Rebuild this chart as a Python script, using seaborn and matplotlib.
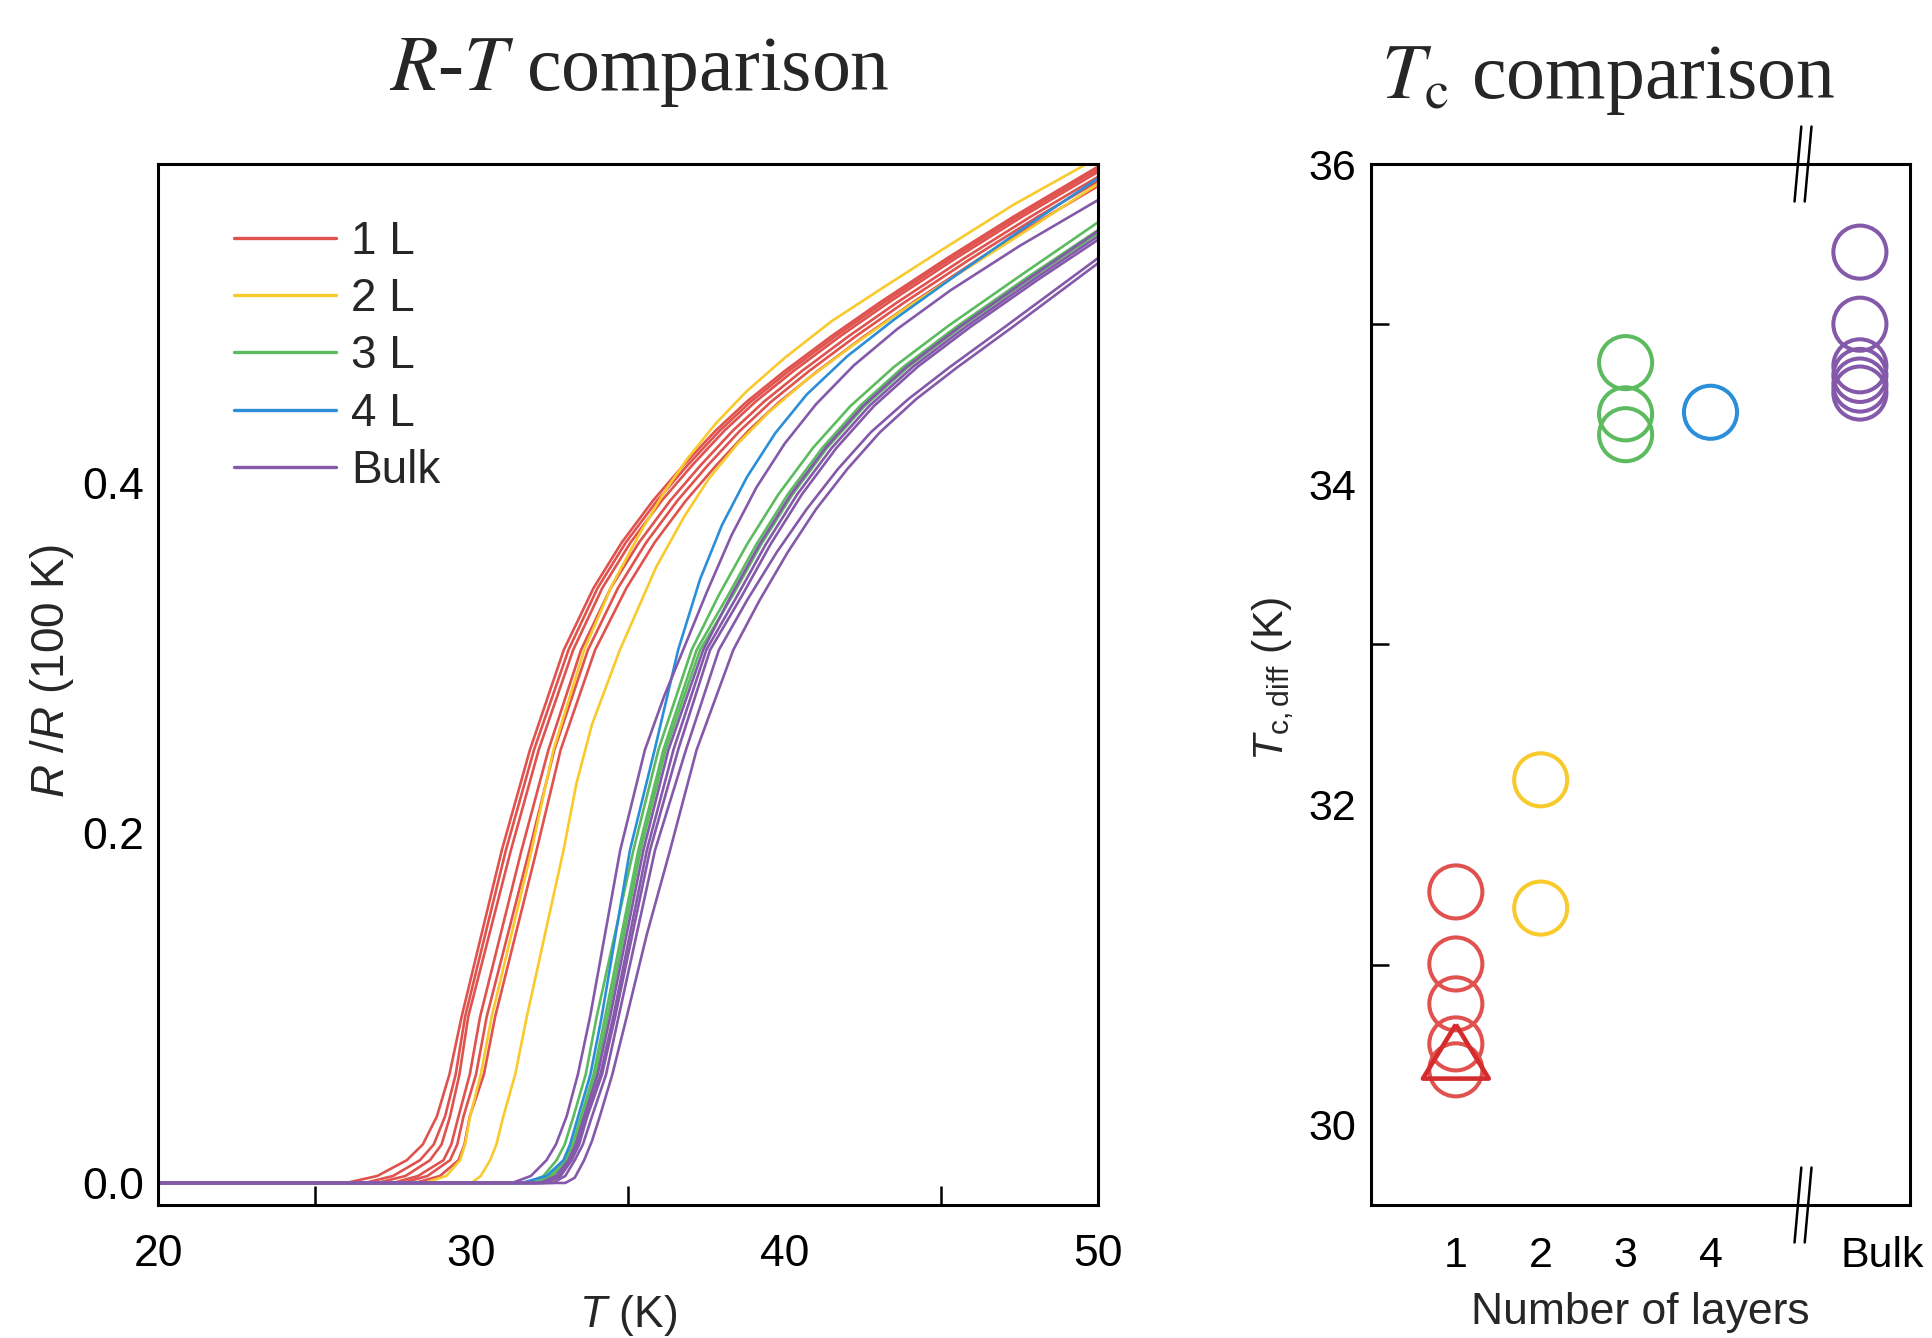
import numpy as np
import pandas as pd
import matplotlib
matplotlib.use("Agg")
import matplotlib.pyplot as plt
import matplotlib.transforms as mtransforms
from matplotlib import font_manager as fm
from matplotlib.lines import Line2D
import seaborn as sns

# ---------------------------------------------------------------------------
# R-T curves, normalised to R(100 K): each group is a list of curves,
# each curve a list of temperatures (K) and the matching resistance ratios.
# ---------------------------------------------------------------------------
RED_T = [
    [20, 26.0, 27.0, 27.94, 28.45, 28.90, 29.30, 29.69, 30.97, 31.87, 32.95, 33.90, 34.80, 35.80, 36.76, 37.80, 38.79, 40.00, 41.50, 43.04, 45.17, 47.30, 50],
    [20, 26.6, 27.5, 28.36, 28.80, 29.16, 29.50, 29.80, 31.10, 32.00, 33.10, 34.03, 34.93, 35.93, 36.89, 37.93, 38.92, 40.13, 41.63, 43.17, 45.30, 47.43, 50],
    [20, 27.0, 27.9, 28.68, 29.05, 29.32, 29.62, 29.90, 31.26, 32.15, 33.25, 34.18, 35.08, 36.08, 37.04, 38.08, 39.07, 40.28, 41.78, 43.32, 45.45, 47.58, 50],
    [20, 27.5, 28.3, 29.11, 29.36, 29.59, 29.95, 30.28, 31.60, 32.46, 33.50, 34.45, 35.35, 36.35, 37.31, 38.35, 39.34, 40.55, 42.05, 43.59, 45.72, 47.85, 50],
    [20, 27.8, 28.6, 29.32, 29.55, 29.75, 30.15, 30.49, 31.85, 32.65, 33.72, 34.68, 35.58, 36.58, 37.54, 38.58, 39.57, 40.78, 42.28, 43.82, 45.95, 48.08, 50],
    [20, 28.2, 29.0, 29.59, 29.78, 29.95, 30.40, 30.76, 32.08, 32.85, 33.95, 34.95, 35.85, 36.85, 37.81, 38.85, 39.84, 41.05, 42.55, 44.09, 46.22, 48.35, 50],
]
RED_R = [
    [0, 0, .004, .013, .022, .038, .062, .095, .19, .2475, .3046, .340, .366, .390, .410, .430, .4465, .4640, .4840, .5032, .5283, .5522, .5808],
    [0, 0, .004, .013, .022, .038, .062, .095, .19, .2475, .3046, .340, .366, .390, .410, .430, .4465, .4640, .4840, .5032, .5283, .5522, .5794],
    [0, 0, .004, .013, .022, .038, .062, .095, .19, .2475, .3046, .340, .366, .390, .410, .430, .4465, .4640, .4840, .5032, .5283, .5522, .5778],
    [0, 0, .004, .013, .022, .038, .062, .095, .19, .2475, .3046, .340, .366, .390, .410, .430, .4465, .4640, .4840, .5032, .5283, .5522, .5750],
    [0, 0, .004, .013, .022, .038, .062, .095, .19, .2475, .3046, .340, .366, .390, .410, .430, .4465, .4640, .4840, .5032, .5283, .5522, .5725],
    [0, 0, .004, .013, .022, .038, .062, .095, .19, .2475, .3046, .340, .366, .390, .410, .430, .4465, .4640, .4840, .5032, .5283, .5522, .5697],
]

YELLOW_T = [
    [20, 28.5, 29.2, 29.64, 29.80, 29.96, 30.30, 30.65, 31.92, 32.62, 33.60, 34.50, 35.40, 36.20, 36.90, 37.80, 38.79, 40.00, 41.50, 43.04, 45.17, 47.30, 50],
    [20, 30.0, 30.3, 30.60, 30.80, 31.02, 31.40, 31.77, 32.94, 33.35, 33.85, 34.74, 35.90, 36.80, 37.60, 38.50, 39.50, 40.70, 42.20, 43.70, 45.50, 47.70, 50],
]
YELLOW_R = [
    [0, 0, .004, .013, .022, .038, .062, .095, .19, .2475, .3046, .342, .372, .396, .414, .434, .4525, .4715, .4925, .5105, .5350, .5590, .5860],
    [0, 0, .004, .013, .022, .038, .062, .095, .19, .228, .262, .3046, .352, .381, .403, .4225, .4405, .4590, .4790, .4980, .5190, .5440, .5710],
]

GREEN_T = [
    [20, 31.8, 32.3, 32.72, 32.98, 33.26, 33.65, 34.00, 35.17, 35.97, 37.03, 37.90, 38.80, 39.80, 40.90, 42.10, 43.50, 45.20, 47.40, 50],
    [20, 32.0, 32.5, 33.00, 33.23, 33.50, 33.90, 34.27, 35.33, 36.13, 37.19, 38.20, 39.10, 40.10, 41.20, 42.40, 43.80, 45.50, 47.70, 50],
    [20, 32.1, 32.6, 33.05, 33.30, 33.56, 33.97, 34.35, 35.40, 36.20, 37.30, 38.35, 39.25, 40.25, 41.35, 42.55, 43.95, 45.65, 47.85, 50],
]
GREEN_R = [
    [0, 0, .004, .013, .022, .038, .062, .095, .19, .2475, .3046, .336, .365, .3935, .420, .444, .4665, .4895, .5170, .5490],
    [0, 0, .004, .013, .022, .038, .062, .095, .19, .2475, .3046, .336, .365, .3935, .420, .444, .4665, .4895, .5170, .5445],
    [0, 0, .004, .013, .022, .038, .062, .095, .19, .2475, .3046, .336, .365, .3935, .420, .444, .4665, .4895, .5170, .5428],
]

BLUE_T = [
    [20, 31.6, 32.4, 32.94, 33.15, 33.41, 33.80, 34.16, 35.06, 35.85, 36.60, 37.30, 38.00, 38.80, 39.70, 40.70, 42.00, 43.50, 45.30, 47.50, 50],
]
BLUE_R = [
    [0, 0, .004, .013, .022, .038, .062, .095, .19, .2475, .3046, .345, .376, .4035, .4285, .4505, .4725, .4935, .5166, .5441, .5741],
]

PURPLE_T = [
    [20, 31.3, 31.9, 32.40, 32.70, 33.04, 33.40, 33.79, 34.75, 35.54, 36.15, 36.76, 37.50, 38.30, 39.10, 40.00, 41.00, 42.20, 43.60, 45.30, 47.50, 50],
    [20, 32.2, 32.7, 33.10, 33.33, 33.60, 34.03, 34.43, 35.49, 36.29, 37.40, 38.30, 39.20, 40.20, 41.30, 42.50, 43.90, 45.60, 47.80, 50],
    [20, 32.3, 32.8, 33.15, 33.40, 33.66, 34.12, 34.53, 35.60, 36.45, 37.50, 38.50, 39.40, 40.40, 41.50, 42.70, 44.10, 45.80, 48.00, 50],
    [20, 32.4, 32.85, 33.20, 33.44, 33.70, 34.17, 34.59, 35.70, 36.60, 37.62, 38.65, 39.55, 40.55, 41.65, 42.85, 44.25, 45.95, 48.15, 50],
    [20, 32.6, 33.0, 33.30, 33.56, 33.85, 34.30, 34.70, 35.86, 36.85, 37.90, 38.80, 39.75, 40.70, 41.70, 42.75, 43.95, 45.25, 47.05, 50],
    [20, 33.0, 33.3, 33.60, 33.85, 34.10, 34.50, 34.96, 35.60, 36.34, 37.19, 38.36, 39.20, 40.10, 41.00, 42.00, 43.04, 44.20, 45.50, 47.30, 50],
]
PURPLE_R = [
    [0, 0, .004, .013, .022, .038, .062, .095, .19, .2475, .278, .3046, .3370, .3700, .3975, .4225, .4450, .4671, .4881, .5102, .5355, .5617],
    [0, 0, .004, .013, .022, .038, .062, .095, .19, .2475, .3046, .336, .365, .3935, .420, .444, .4665, .4895, .5170, .5440],
    [0, 0, .004, .013, .022, .038, .062, .095, .19, .2475, .3046, .336, .365, .3935, .420, .444, .4665, .4895, .5170, .5410],
    [0, 0, .004, .013, .022, .038, .062, .095, .19, .2475, .3046, .336, .365, .3935, .420, .444, .4665, .4895, .5170, .5390],
    [0, 0, .004, .013, .022, .038, .062, .095, .19, .2475, .3046, .333, .3605, .385, .408, .429, .448, .466, .4895, .5285],
    [0, 0, .003, .013, .024, .038, .062, .095, .142, .19, .2475, .3046, .333, .3605, .385, .408, .429, .448, .466, .4895, .5256],
]

GROUP_NAMES = ["1 L", "2 L", "3 L", "4 L", "Bulk"]
GROUP_COLORS = ["#E0524E", "#F8CA2C", "#5DBB5F", "#2A8FD8", "#8459AA"]
CURVES_T = [RED_T, YELLOW_T, GREEN_T, BLUE_T, PURPLE_T]
CURVES_R = [RED_R, YELLOW_R, GREEN_R, BLUE_R, PURPLE_R]

# ---------------------------------------------------------------------------
# Tc (derivative criterion) for each sample, grouped by number of layers
# ---------------------------------------------------------------------------
LAYER_TICKS = [1, 2, 3, 4, 5.76]
LAYER_LABELS = ["1", "2", "3", "4", "Bulk"]
TC_1L = [31.455, 31.005, 30.756, 30.506, 30.344]
TC_1L_TRIANGLE = [30.458]
TC_2L = [32.155, 31.354]
TC_3L = [34.76, 34.44, 34.31]
TC_4L = [34.45]
TC_BULK = [35.45, 35.00, 34.74, 34.68, 34.62, 34.57]
TC_GROUPS = [TC_1L, TC_2L, TC_3L, TC_4L, TC_BULK]
TRIANGLE_COLOR = "#D42C2C"
AXIS_BREAK_X = 5.09

# ---------------------------------------------------------------------------
# Style
# ---------------------------------------------------------------------------
sns.set_theme(style="white")
installed = {f.name for f in fm.fontManager.ttflist}
SANS = "Liberation Sans" if "Liberation Sans" in installed else "DejaVu Sans"
if "Liberation Sans Narrow" in installed:
    NARROW, NARROW_SIZE = "Liberation Sans Narrow", 37
else:
    NARROW, NARROW_SIZE = SANS, 32
SERIF = "Liberation Serif" if "Liberation Serif" in installed else "DejaVu Serif"

plt.rcParams["font.family"] = [SANS, "DejaVu Sans"]
plt.rcParams["mathtext.fontset"] = "custom"
plt.rcParams["mathtext.rm"] = NARROW
plt.rcParams["mathtext.it"] = NARROW + ":italic"
plt.rcParams["mathtext.bf"] = NARROW + ":bold"
plt.rcParams["axes.linewidth"] = 2.2
plt.rcParams["axes.edgecolor"] = "black"

fig = plt.figure(figsize=(19.32, 13.38), dpi=100)
ax1 = fig.add_axes([0.0818, 0.0994, 0.4865, 0.7780])
ax2 = fig.add_axes([0.7096, 0.0994, 0.2790, 0.7780])

# ---------------------------------------------------------------------------
# Left: R-T curves
# ---------------------------------------------------------------------------
rows = []
for name, ts, rs in zip(GROUP_NAMES, CURVES_T, CURVES_R):
    for k, (t, r) in enumerate(zip(ts, rs)):
        for ti, ri in zip(t, r):
            rows.append({"group": name, "curve": f"{name}-{k}", "T": ti, "R": ri})
curves = pd.DataFrame(rows)

for name, color in zip(GROUP_NAMES, GROUP_COLORS):
    sub = curves[curves["group"] == name]
    sns.lineplot(data=sub, x="T", y="R", units="curve", estimator=None,
                 sort=False, color=color, lw=1.9, ax=ax1, legend=False)

ax1.set_xlim(20, 50)
ax1.set_ylim(-0.0126, 0.5823)
ax1.set_xticks([20, 30, 40, 50])
ax1.set_xticks([25, 35, 45], minor=True)
ax1.set_yticks([0.0, 0.2, 0.4])
ax1.set_yticklabels(["0.0", "0.2", "0.4"])
ax1.tick_params(axis="both", which="both", direction="in", colors="black",
                top=False, right=False, width=1.8)
ax1.tick_params(axis="both", which="major", length=24)
ax1.tick_params(axis="x", which="minor", length=13.5, bottom=True)
ax1.tick_params(axis="x", which="major", pad=21)
ax1.tick_params(axis="y", which="major", pad=10)
for lab in ax1.get_xticklabels() + ax1.get_yticklabels():
    lab.set_fontfamily(NARROW)
    lab.set_fontsize(NARROW_SIZE)

ax1.set_xlabel(r"$\mathit{T}$ (K)", fontfamily=NARROW, fontsize=NARROW_SIZE)
ax1.set_ylabel(r"$\mathit{R}$ /$\mathit{R}$ (100 K)", fontfamily=NARROW,
               fontsize=NARROW_SIZE + 1)
ax1.xaxis.set_label_coords(0.5, -0.1066)
ax1.xaxis.label.set_verticalalignment("center")
ax1.yaxis.set_label_coords(-0.1128, 0.513)
ax1.yaxis.label.set_verticalalignment("center")

handles = [Line2D([], [], color=c, lw=2.4) for c in GROUP_COLORS]
ax1.legend(handles, GROUP_NAMES, loc="upper left", bbox_to_anchor=(0.081, 0.9465),
           frameon=False, prop={"family": SANS, "size": 33},
           handlelength=2.22, handletextpad=0.33, labelspacing=0.29,
           borderpad=0, borderaxespad=0)

# ---------------------------------------------------------------------------
# Right: Tc versus number of layers
# ---------------------------------------------------------------------------
for pos, vals, color in zip(LAYER_TICKS, TC_GROUPS, GROUP_COLORS):
    pts = pd.DataFrame({"layers": [pos] * len(vals), "tc": vals})
    sns.scatterplot(data=pts, x="layers", y="tc", ax=ax2, marker="o", s=1460,
                    facecolor="none", edgecolor=color, linewidth=2.9,
                    legend=False, zorder=3)

tri = pd.DataFrame({"layers": [LAYER_TICKS[0]] * len(TC_1L_TRIANGLE), "tc": TC_1L_TRIANGLE})
tri_marker = [(0, 0.82), (-1, -0.82), (1, -0.82), (0, 0.82)]
sns.scatterplot(data=tri, x="layers", y="tc", ax=ax2, marker=tri_marker, s=2250,
                facecolor="none", edgecolor=TRIANGLE_COLOR, linewidth=3.3,
                legend=False, zorder=4)

ax2.set_xlim(0, 6.35)
ax2.set_ylim(29.5, 36.0)
ax2.set_xticks(LAYER_TICKS)
ax2.set_xticklabels(LAYER_LABELS)
ax2.set_yticks([30, 32, 34, 36])
ax2.set_yticks([31, 33, 35], minor=True)
ax2.tick_params(axis="both", which="both", direction="in", colors="black",
                top=False, right=False, width=1.8, labelsize=31)
ax2.tick_params(axis="both", which="major", length=24)
ax2.tick_params(axis="y", which="minor", length=13, left=True)
ax2.tick_params(axis="x", which="major", pad=22)
ax2.tick_params(axis="y", which="major", pad=11)
bulk_label = ax2.get_xticklabels()[-1]
bulk_label.set_transform(bulk_label.get_transform()
                         + mtransforms.ScaledTranslation(0.22, 0, fig.dpi_scale_trans))

ax2.set_xlabel("Number of layers", fontsize=32)
ax2.set_ylabel(r"$\mathit{T}_{\mathrm{c,diff}}$ (K)", fontsize=31)
ax2.xaxis.set_label_coords(0.5, -0.1028)
ax2.xaxis.label.set_verticalalignment("center")
ax2.yaxis.set_label_coords(-0.182, 0.506)
ax2.yaxis.label.set_verticalalignment("center")

# axis-break marks on the top and bottom spines
brk = mtransforms.blended_transform_factory(ax2.transData, ax2.transAxes)
for dx in (-0.06, 0.06):
    for y0 in (0.0, 1.0):
        ax2.add_line(Line2D([AXIS_BREAK_X + dx - 0.04, AXIS_BREAK_X + dx + 0.04],
                            [y0 - 0.036, y0 + 0.036], transform=brk,
                            color="black", lw=1.8, clip_on=False))

# ---------------------------------------------------------------------------
# Titles
# ---------------------------------------------------------------------------
fig.text(0.331, 0.933, r"$\mathit{R}$-$\mathit{T}$ comparison", ha="center",
         va="baseline", fontsize=56, fontfamily=SERIF, math_fontfamily="stix")
fig.text(0.8325, 0.927, r"$\mathit{T}_{\mathrm{c}}$ comparison", ha="center",
         va="baseline", fontsize=56, fontfamily=SERIF, math_fontfamily="stix")

fig.savefig("out.png", dpi=100)
